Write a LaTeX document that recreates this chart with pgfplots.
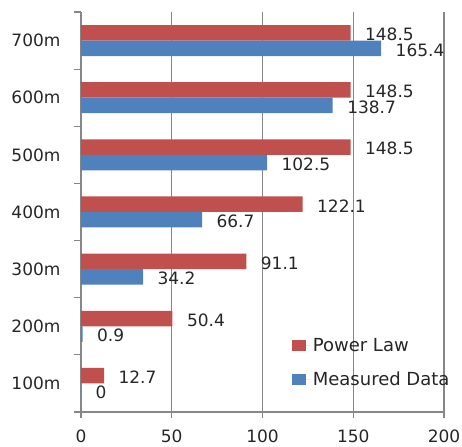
\documentclass[border=0pt]{standalone}
\usepackage{pgfplots}
\pgfplotsset{compat=1.18}
\usepackage{fontspec}
\setmainfont{DejaVu Sans}
\definecolor{plred}{HTML}{C0504D}
\definecolor{mdblue}{HTML}{4F81BD}
\definecolor{gridgray}{HTML}{878787}

\begin{document}
\begin{tikzpicture}
\begin{axis}[
  name=ax,
  scale only axis, width=363pt, height=400pt,
  xbar, bar width=15.5pt,
  xmin=0, xmax=200, ymin=-0.5, ymax=6.5,
  clip=false,
  axis x line*=bottom, axis y line*=left,
  axis line style={gridgray, line width=1.1pt},
  tick align=outside,
  major tick length=6pt, minor tick length=7pt,
  xtick={0,50,...,200},
  xmajorgrids, grid style={gridgray, line width=1.1pt},
  ytick={0,...,6},
  yticklabels={100m,200m,300m,400m,500m,600m,700m},
  minor ytick={-0.5,0.5,...,6.5},
  every major y tick/.append style={draw=none},
  every minor y tick/.append style={gridgray, line width=1.1pt},
  every major x tick/.append style={gridgray, line width=1.1pt},
  /pgf/number format/assume math mode=true,
  ticklabel style={font=\fontsize{17}{20}\selectfont, text=black!85},
  yticklabel style={xshift=-11pt},
  xticklabel style={yshift=-8.5pt},
  nodes near coords,
  nodes near coords style={anchor=west, xshift=11pt, yshift=-1.5pt,
    font=\fontsize{17}{20}\selectfont, text=black!85},
  legend image code/.code={%
    \fill[#1] (0pt,-5.5pt) rectangle (14pt,5.5pt);
    \path (0pt,0pt) -- (19pt,0pt);},
  legend style={at={(rel axis cs:0.572,0.195)}, anchor=north west,
    draw=none, fill=none, font=\fontsize{18}{21}\selectfont, text=black!85,
    row sep=15pt, cells={anchor=west}},
]
\addplot[fill=plred, draw=none, bar shift=7.75pt] coordinates {
  (12.7,0) (50.4,1) (91.1,2) (122.1,3) (148.5,4) (148.5,5) (148.5,6)};
\addlegendentry{Power Law}
\addplot[fill=mdblue, draw=none, bar shift=-7.75pt] coordinates {
  (0,0) (0.9,1) (34.2,2) (66.7,3) (102.5,4) (138.7,5) (165.4,6)};
\addlegendentry{Measured Data}
\end{axis}
\pgfresetboundingbox
\path ([shift={(-81pt,-34pt)}]ax.south west) rectangle ([shift={(18pt,12pt)}]ax.north east);
\end{tikzpicture}
\end{document}
